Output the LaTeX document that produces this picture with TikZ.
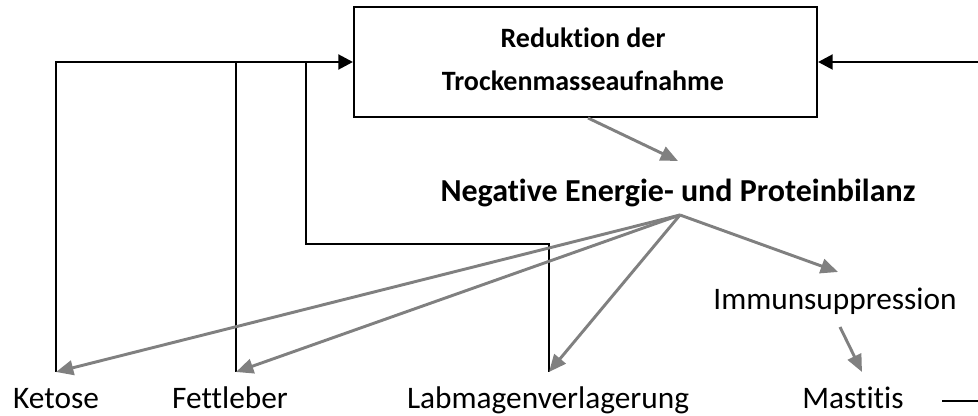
\documentclass[tikz,border=0pt]{standalone}
\usepackage{fontspec}
\setmainfont{Carlito}[Ligatures={NoCommon,NoRequired,NoContextual}]
\usetikzlibrary{arrows.meta}

\tikzset{every picture/.style={line width=0.75pt}}
\tikzset{
  fb/.style={line width=2.2pt, black},
  fbarrow/.style={fb, -{Triangle[length=11pt,width=11pt]}},
  effarrow/.style={line width=2.2pt, color=effgray, -{Triangle[length=13pt,width=11pt]}},
  txt/.style={inner sep=0.75pt, anchor=base, font=\fontsize{23.5}{28}\selectfont},
  boldtxt/.style={inner sep=0.75pt, font=\fontsize{21}{32}\selectfont\bfseries},
}
\definecolor{effgray}{RGB}{128,128,128}

\begin{document}
\begin{tikzpicture}[x=0.75pt,y=0.75pt,yscale=-1,xscale=1]
    \useasboundingbox (0,0) rectangle (978,416);
    % Box
    \node [draw, line width=1.5pt, minimum width=463*0.75pt, minimum height=110*0.75pt, align=center, boldtxt] (red) at (585.5,62) {};
    \node [boldtxt, align=center] (redtxt) at (583,59) {Reduktion der\\Trockenmasseaufnahme};
    % Text Nodes
    \node [boldtxt, font=\fontsize{24}{30}\selectfont\bfseries] (neb) at (678,193) {Negative Energie- und Proteinbilanz};
    \node [txt] (imm) at (835,310) {Immunsuppression};
    \node [txt] (ket) at (56,409) {Ketose};
    \node [txt] (fett) at (230,409) {Fettleber};
    \node [txt] (lab) at (548,409) {Labmagenverlagerung};
    \node [txt] (mas) at (853,409) {Mastitis};
    % end points
    \coordinate (src) at (680,215);
    \coordinate (ketT) at (56,372);
    \coordinate (fettT) at (236,372);
    \coordinate (labT) at (549,372);
    \coordinate (immT) at (838,272);
    \coordinate (immB) at (840,327);
    \coordinate (masT) at (862,372);
    \coordinate (redB) at (588,118);
    \coordinate (nebT) at (678,161);
    \coordinate (outR) at (978,0 |- red.east);
    \coordinate (outM) at (978,401);
    %Feedback lines
    \draw [fbarrow] (ketT) |- (red.west);
    \draw [fb] (fettT) -- (fettT |- red.west);
    \draw [fb] (labT) -- (549,244) -| (306,0 |- red.west);
    \draw [fbarrow] (outR) -- (red.east);
    \draw [fb] (942,0 |- outM) -- (outM);
    %Gray arrows
    \draw [effarrow] (redB) -- (nebT);
    \draw [effarrow] (src) -- (ketT);
    \draw [effarrow] (src) -- (fettT);
    \draw [effarrow] (src) -- (labT);
    \draw [effarrow] (src) -- (immT);
    \draw [effarrow] (immB) -- (masT);
\end{tikzpicture}
\end{document}
